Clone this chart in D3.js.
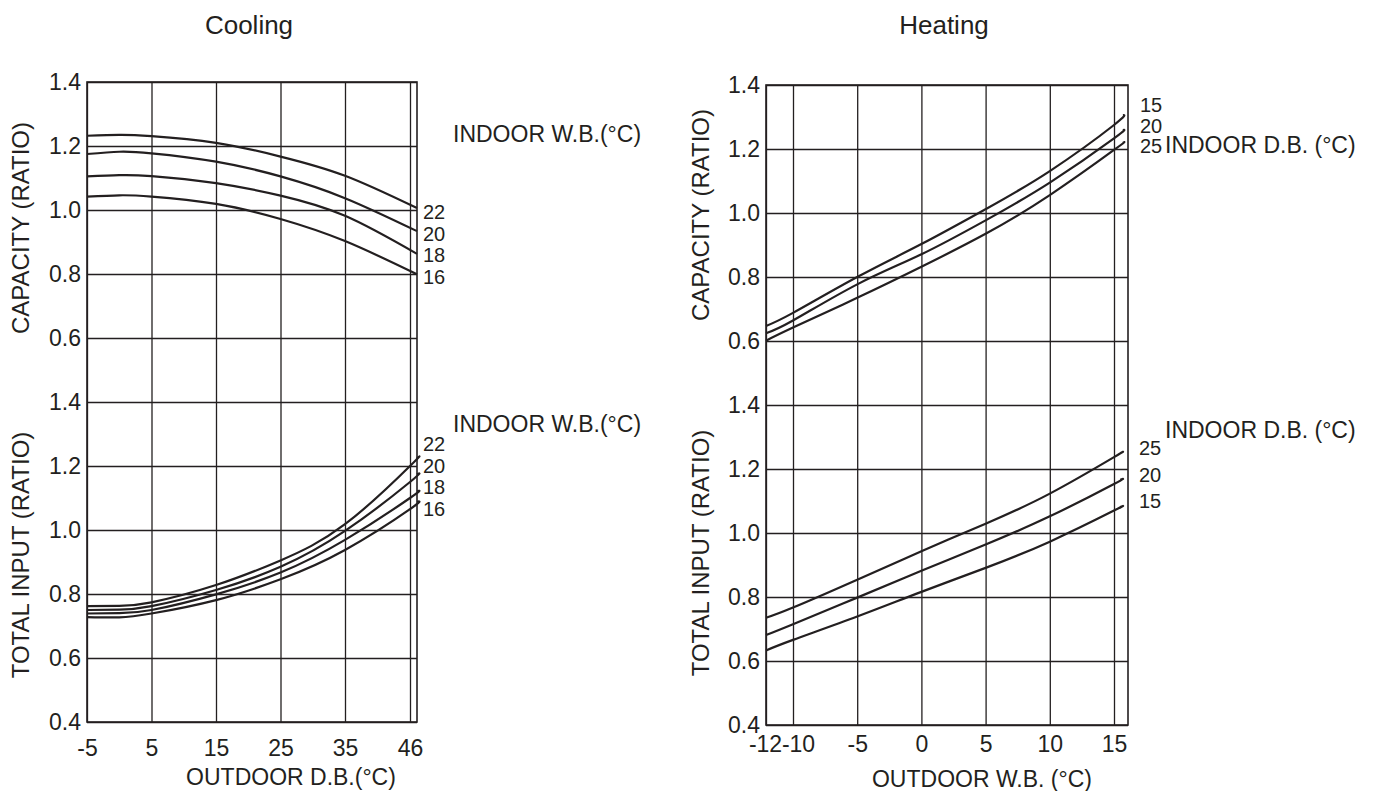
<html>
<head>
  <title>Cooling / Heating capacity curves</title>
  <script src="https://cdnjs.cloudflare.com/ajax/libs/d3/7.8.5/d3.min.js"></script>
  <style>
    body { margin: 0; background: #fff; }
    text { font-family: Arial, "Liberation Sans", sans-serif; fill: #231f20; }
  </style>
</head>
<body>
  <script>
    // ---- data ----
    const coolGridX = [-5, 5, 15, 25, 35, 46];
    const heatGridX = [-12, -10, -5, 0, 5, 10, 15];
    const capTicks = [0.6, 0.8, 1.0, 1.2, 1.4];
    const inputTicks = [0.4, 0.6, 0.8, 1.0, 1.2, 1.4];

    // cooling: outdoor D.B., curves end at the frame edge (47)
    const coolCapX = [-5, 0, 5, 15, 25, 35, 47];
    const coolCap22 = [1.232, 1.235, 1.231, 1.21, 1.167, 1.107, 1.006];
    const coolCap20 = [1.175, 1.182, 1.177, 1.151, 1.105, 1.037, 0.934];
    const coolCap18 = [1.105, 1.109, 1.106, 1.084, 1.045, 0.982, 0.863];
    const coolCap16 = [1.042, 1.046, 1.042, 1.019, 0.972, 0.903, 0.799];

    const coolInX = [-5, 0, 5, 15, 25, 35, 46, 47];
    const coolIn22 = [0.762, 0.763, 0.774, 0.828, 0.905, 1.018, 1.2, 1.224];
    const coolIn20 = [0.75, 0.751, 0.762, 0.8125, 0.885, 0.997, 1.15, 1.174];
    const coolIn18 = [0.739, 0.740, 0.75, 0.799, 0.867, 0.969, 1.1, 1.12];
    const coolIn16 = [0.728, 0.727, 0.739, 0.781, 0.846, 0.9375, 1.065, 1.088];

    const coolLabels = ["22", "20", "18", "16"];

    // heating: outdoor W.B.
    const heatCapX = [-12, -10, -5, 0, 5, 10, 15, 15.7];
    const heatCap15 = [0.647, 0.688, 0.800, 0.903, 1.012, 1.131, 1.275, 1.306];
    const heatCap20 = [0.624, 0.664, 0.777, 0.871, 0.977, 1.095, 1.233, 1.259];
    const heatCap25 = [0.601, 0.642, 0.735, 0.832, 0.935, 1.056, 1.197, 1.219];

    const heatInX = [-12, -10, -5, 0, 5, 10, 15, 15.5];
    const heatIn25 = [0.735, 0.767, 0.854, 0.943, 1.029, 1.123, 1.237, 1.249];
    const heatIn20 = [0.681, 0.715, 0.798, 0.882, 0.964, 1.052, 1.153, 1.166];
    const heatIn15 = [0.633, 0.666, 0.739, 0.816, 0.891, 0.973, 1.07, 1.081];

    const heatCapLabels = ["15", "20", "25"];
    const heatInLabels = ["25", "20", "15"];

    const ink = "#231f20";
    const width = 1376, height = 791;

    const svg = d3.select("body")
      .append("svg")
      .attr("width", width)
      .attr("height", height);

    function drawChart(o) {
      const g = svg.append("g");
      const x0 = o.x.range()[0], x1 = o.x.range()[o.x.range().length - 1];
      const top = o.yCap.range()[1], bottom = o.yIn.range()[0];

      // horizontal grid + y labels
      [[o.yCap, capTicks], [o.yIn, inputTicks]].forEach(([y, ticks]) => {
        const ax = g.append("g")
          .attr("transform", `translate(${x0},0)`)
          .call(d3.axisLeft(y).tickValues(ticks).tickSize(-(x1 - x0))
            .tickPadding(6).tickFormat(d => d.toFixed(1)));
        ax.select(".domain").remove();
        ax.selectAll("line").attr("stroke", ink).attr("stroke-width", 1.3);
        ax.selectAll("text").attr("font-size", 23).attr("dy", "0.34em");
      });

      // vertical grid + x labels (plain hyphen for negatives, as in the source)
      const xa = g.append("g")
        .attr("transform", `translate(0,${bottom})`)
        .call(d3.axisBottom(o.x).tickValues(o.gridX).tickSize(-(bottom - top))
          .tickPadding(o.xPad).tickFormat(d => String(d)));
      xa.select(".domain").remove();
      xa.selectAll("line").attr("stroke", ink).attr("stroke-width", 1.3);
      xa.selectAll("text").attr("font-size", 23)
        .attr("dx", d => (o.tickShift && o.tickShift[d]) || 0);

      g.append("rect")
        .attr("x", x0).attr("y", top)
        .attr("width", x1 - x0).attr("height", bottom - top)
        .attr("fill", "none").attr("stroke", ink).attr("stroke-width", 1.6);

      // curves
      o.series.forEach(s => {
        const line = d3.line()
          .x((d, i) => o.x(s.xs[i]))
          .y(d => s.y(d))
          .curve(d3.curveNatural);
        g.append("path")
          .attr("d", line(s.ys))
          .attr("fill", "none")
          .attr("stroke", ink)
          .attr("stroke-width", 2.2);
      });

      // titles
      g.append("text").attr("x", o.titleX).attr("y", 34)
        .attr("text-anchor", "middle").attr("font-size", 26).text(o.title);
      g.append("text").attr("x", o.xTitleX).attr("y", o.xTitleY)
        .attr("text-anchor", "middle").attr("font-size", 23).text(o.xTitle);
      g.append("text")
        .attr("transform", `translate(${o.yTitleX},${o.capTitleY}) rotate(-90)`)
        .attr("text-anchor", "middle").attr("font-size", 24).text("CAPACITY (RATIO)");
      g.append("text")
        .attr("transform", `translate(${o.yTitleX},${o.inTitleY}) rotate(-90)`)
        .attr("text-anchor", "middle").attr("font-size", 24).text("TOTAL INPUT (RATIO)");

      // series labels
      o.labels.forEach(l => {
        g.append("text").attr("x", l.x).attr("y", l.y)
          .attr("font-size", l.size || 20).text(l.text);
      });
    }

    // ---- Cooling ----
    const xCool = d3.scaleLinear().domain([-5, 35, 46, 47]).range([87, 345, 410, 417]);
    const yCoolCap = d3.scaleLinear().domain([0.6, 1.4]).range([338, 82]);
    const yCoolIn = d3.scaleLinear().domain([0.4, 1.4]).range([722, 402]);

    drawChart({
      x: xCool, yCap: yCoolCap, yIn: yCoolIn, gridX: coolGridX, xPad: 18,
      title: "Cooling", titleX: 249,
      xTitle: "OUTDOOR D.B.(°C)", xTitleX: 291, xTitleY: 785,
      yTitleX: 29, capTitleY: 228, inTitleY: 555,
      series: [
        { xs: coolCapX, ys: coolCap22, y: yCoolCap },
        { xs: coolCapX, ys: coolCap20, y: yCoolCap },
        { xs: coolCapX, ys: coolCap18, y: yCoolCap },
        { xs: coolCapX, ys: coolCap16, y: yCoolCap },
        { xs: coolInX, ys: coolIn22, y: yCoolIn },
        { xs: coolInX, ys: coolIn20, y: yCoolIn },
        { xs: coolInX, ys: coolIn18, y: yCoolIn },
        { xs: coolInX, ys: coolIn16, y: yCoolIn }
      ],
      labels: [
        { x: 453, y: 142, text: "INDOOR W.B.(°C)", size: 23 },
        { x: 453, y: 432, text: "INDOOR W.B.(°C)", size: 23 }
      ].concat(coolLabels.map((t, i) => ({ x: 423, y: 219 + i * 21.5, text: t })))
       .concat(coolLabels.map((t, i) => ({ x: 423, y: 451 + i * 21.5, text: t })))
    });

    // ---- Heating ----
    const xHeat = d3.scaleLinear().domain([-12, -10, 15, 16.1]).range([766, 793, 1114, 1128]);
    const yHeatCap = d3.scaleLinear().domain([0.6, 1.4]).range([341, 85]);
    const yHeatIn = d3.scaleLinear().domain([0.4, 1.4]).range([725, 405]);

    drawChart({
      x: xHeat, yCap: yHeatCap, yIn: yHeatIn, gridX: heatGridX, xPad: 11,
      tickShift: { "-12": -1, "-10": 5 },
      title: "Heating", titleX: 944,
      xTitle: "OUTDOOR W.B. (°C)", xTitleX: 982, xTitleY: 787,
      yTitleX: 709, capTitleY: 215, inTitleY: 553,
      series: [
        { xs: heatCapX, ys: heatCap15, y: yHeatCap },
        { xs: heatCapX, ys: heatCap20, y: yHeatCap },
        { xs: heatCapX, ys: heatCap25, y: yHeatCap },
        { xs: heatInX, ys: heatIn25, y: yHeatIn },
        { xs: heatInX, ys: heatIn20, y: yHeatIn },
        { xs: heatInX, ys: heatIn15, y: yHeatIn }
      ],
      labels: [
        { x: 1165, y: 153, text: "INDOOR D.B. (°C)", size: 23 },
        { x: 1165, y: 438, text: "INDOOR D.B. (°C)", size: 23 }
      ].concat(heatCapLabels.map((t, i) => ({ x: 1140, y: 112 + i * 20.5, text: t })))
       .concat(heatInLabels.map((t, i) => ({ x: 1139, y: 455 + i * 26.5, text: t })))
    });
  </script>
</body>
</html>
